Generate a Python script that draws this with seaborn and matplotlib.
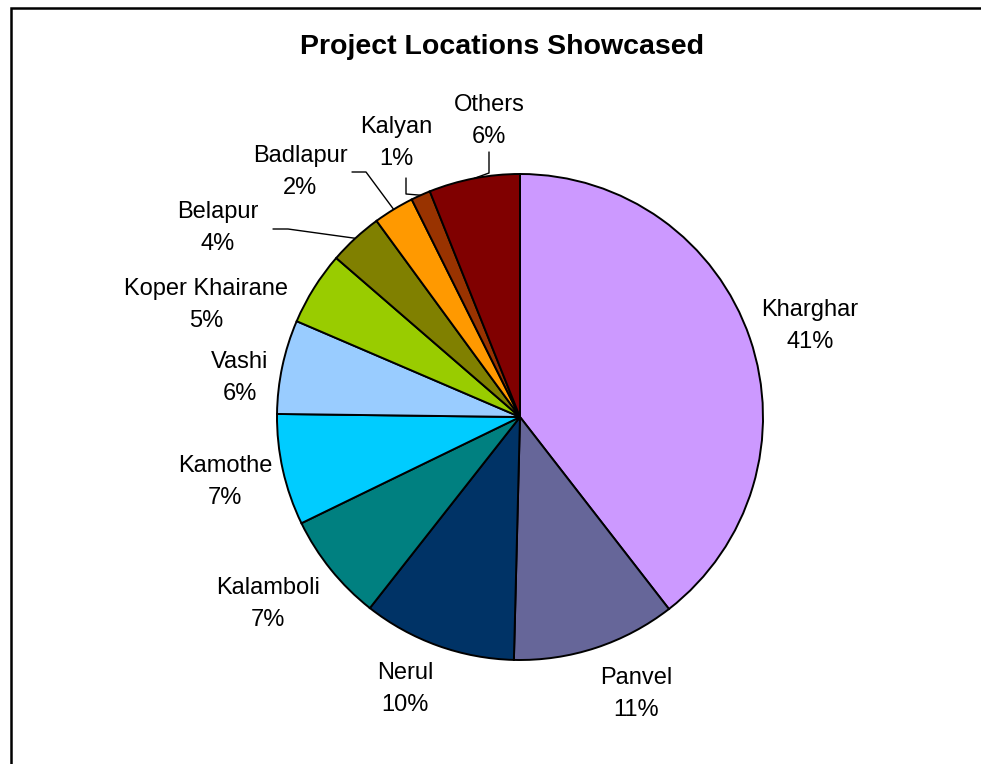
import numpy as np
import matplotlib
matplotlib.use("Agg")
import matplotlib.pyplot as plt
import seaborn as sns
from matplotlib.patches import Rectangle

# ---------- data ----------
locations = ["Kharghar", "Panvel", "Nerul", "Kalamboli", "Kamothe", "Vashi",
             "Koper Khairane", "Belapur", "Badlapur", "Kalyan", "Others"]
# slice shares as drawn in the picture (%)
shares = [39.5, 10.9, 10.2, 7.2, 7.4, 6.25, 4.9, 3.6, 2.7, 1.3, 6.05]
# percentages printed on the labels
pct_labels = ["41%", "11%", "10%", "7%", "7%", "6%", "5%", "4%", "2%", "1%", "6%"]
colors = ["#CC99FF", "#666699", "#003366", "#008080", "#00CCFF", "#99CCFF",
          "#99CC00", "#808000", "#FF9900", "#993300", "#800000"]

# ---------- layout (pixel coords, y from top) ----------
W, H = 981, 764
center_px = (520, 417)
radius_px = 243
label_pos = {
    "Kharghar": (810, 326), "Panvel": (636, 694), "Nerul": (405, 689),
    "Kalamboli": (268, 604), "Kamothe": (225, 482), "Vashi": (240, 378),
    "Koper Khairane": (206, 305), "Belapur": (218, 228), "Badlapur": (300, 172),
    "Kalyan": (396, 143), "Others": (489, 121),
}
# leader lines: start point and elbow, end is on the rim of the slice
leaders = {
    "Belapur": [(273, 229), (288, 229)],
    "Badlapur": [(352, 172), (366, 172)],
    "Kalyan": [(406, 178), (406, 194)],
    "Others": [(489, 152), (489, 173)],
}

sns.set_theme(style="white")
plt.rcParams["font.family"] = ["Liberation Sans", "DejaVu Sans"]

fig = plt.figure(figsize=(W / 100, H / 100), dpi=100)
ax = fig.add_axes([0, 0, 1, 1])

def flip(p):
    return (p[0], H - p[1])

wedges, _ = ax.pie(shares, colors=colors, startangle=90, counterclock=False,
                   center=flip(center_px), radius=radius_px,
                   wedgeprops=dict(edgecolor="black", linewidth=1.4),
                   frame=True)
ax.set_xlim(0, W)
ax.set_ylim(0, H)
ax.set_aspect("equal")
ax.axis("off")

for name, pct, w in zip(locations, pct_labels, wedges):
    x, y = flip(label_pos[name])
    ax.text(x, y, f"{name}\n{pct}", ha="center", va="center",
            fontsize=17, color="black", linespacing=1.6)
    if name in leaders:
        mid = np.deg2rad((w.theta1 + w.theta2) / 2)
        cx, cy = flip(center_px)
        end = (cx + radius_px * np.cos(mid), cy + radius_px * np.sin(mid))
        pts = [flip(p) for p in leaders[name]] + [end]
        xs, ys = zip(*pts)
        ax.plot(xs, ys, color="black", linewidth=1.0)

ax.text(502, H - 47, "Project Locations Showcased", ha="center", va="center",
        fontsize=20.5, fontweight="bold", color="black")

# outer chart frame (cut off at right and bottom)
fig.patches.append(Rectangle((11 / W, -0.05), 1.0, (H - 8) / H + 0.05,
                             transform=fig.transFigure, fill=False,
                             edgecolor="black", linewidth=1.8))

fig.savefig("out.png", dpi=100, facecolor="white")
